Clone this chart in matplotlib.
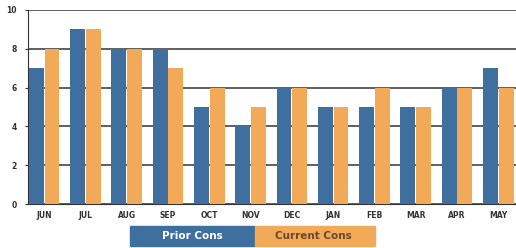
"""Prior vs current cons by month, clustered bars."""

import matplotlib.pyplot as plt
import numpy as np
from matplotlib.patches import Rectangle

months = ["JUN", "JUL", "AUG", "SEP", "OCT", "NOV", "DEC", "JAN", "FEB", "MAR", "APR", "MAY"]
prior = [7, 9, 8, 8, 5, 4, 6, 5, 5, 5, 6, 7]
current = [8, 9, 8, 7, 6, 5, 6, 5, 6, 5, 6, 6]

blue = "#3f6f9f"
orange = "#f2aa58"

fig = plt.figure(figsize=(5.16, 2.48), dpi=100)
ax = fig.add_axes([28 / 516, 44 / 248, 488 / 516, 194 / 248])

x = np.arange(len(months))
w = 0.36
ax.bar(x - 0.19, prior, w, color=blue, zorder=3)
ax.bar(x + 0.19, current, w, color=orange, zorder=3)

ax.set_ylim(0, 10)
ax.set_xlim(-0.39, 11.43)
ax.set_yticks([0, 2, 4, 6, 8, 10])
ax.yaxis.grid(True, color="#444444", lw=1.2, zorder=1)
ax.set_xticks(x)
ax.set_xticklabels(months, fontsize=5.5, fontweight="bold", color="#333333")
ax.tick_params(axis="y", labelsize=5.5, colors="#333333", length=2, pad=6)
ax.tick_params(axis="x", length=0, pad=5)
for lab in ax.get_yticklabels():
    lab.set_fontweight("bold")
for s in ["top", "right"]:
    ax.spines[s].set_visible(False)
ax.spines["left"].set_color("#333333")
ax.spines["bottom"].set_color("#333333")

# legend boxes under the chart
fig.patches.append(Rectangle((130 / 516, 2 / 248), 125 / 516, 20 / 248,
                             transform=fig.transFigure, color=blue))
fig.patches.append(Rectangle((255 / 516, 2 / 248), 120 / 516, 20 / 248,
                             transform=fig.transFigure, color=orange))
fig.text(192 / 516, 12 / 248, "Prior Cons", color="white", fontsize=7.5,
         fontweight="bold", ha="center", va="center")
fig.text(313 / 516, 12 / 248, "Current Cons", color="#6b4a2a", fontsize=7.5,
         fontweight="bold", ha="center", va="center")

fig.savefig("out.png")
